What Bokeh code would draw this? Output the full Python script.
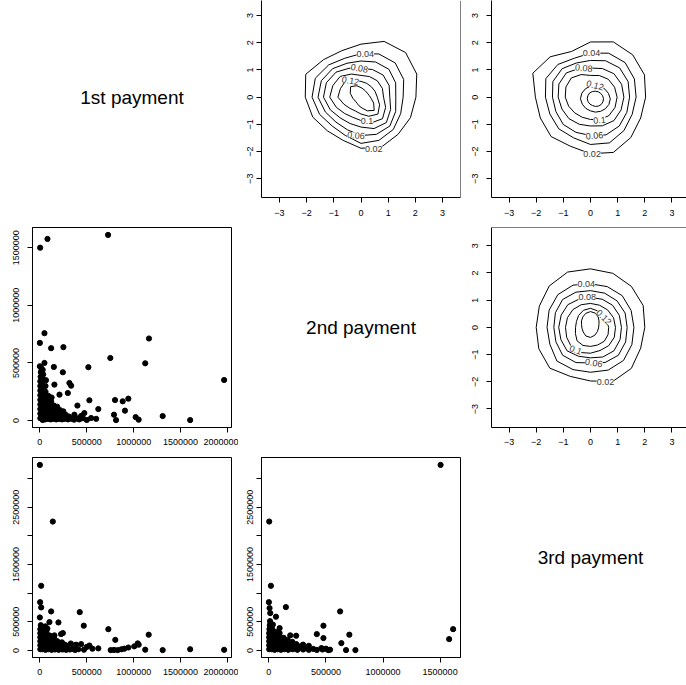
import numpy as np
from bokeh.plotting import figure
from bokeh.layouts import column, row
from bokeh.models import FixedTicker, Range1d, Span, LinearAxis
from bokeh.embed import file_html
from bokeh.resources import INLINE
from bokeh.core.properties import value

FONT = "Liberation Sans"

# ---------------- data ----------------
diag_labels = ["1st payment", "2nd payment", "3rd payment"]

# scatter panels, values in thousands
s21_p1_k = [3, 81, 727, 0, 49, 120, 251, 751, 1163, 1123, 517, 149, 245, 1964, 0, 49, 801, 883, 943, 907,
            623, 528, 400, 790, 812, 1021, 1053, 1309, 1602, 315, 333, 298, 209, 474, 546, 368, 155, 420,
            460, 500, 440, 600,
            5, 5, 5, 5, 5, 5, 5, 5, 5, 8, 10, 15, 30, 35, 30, 25, 30, 25, 30, 30, 30, 30, 30, 30,
            55, 55, 55, 55, 55, 55, 60, 60, 65, 85, 85, 85, 85, 85, 90, 115, 115, 115, 115, 120, 125,
            145, 145, 145, 150, 175, 175, 180, 185, 205, 210, 215, 235, 240, 250, 265, 275, 300, 310,
            340, 365, 395]
s21_p2_k = [1500, 1576, 1611, 674, 758, 628, 637, 543, 712, 497, 463, 465, 419, 352, 471, 500, 178, 167, 190, 86,
            100, 176, 130, 51, 4, 30, 8, 39, 4, 326, 303, 239, 225, 65, 22, 51, 312, 10,
            20, 5, 40, 15,
            20, 60, 100, 140, 180, 220, 260, 300, 340, 380, 420, 455, 440, 400, 360, 320, 280, 240, 200, 160, 120, 80, 40, 5,
            10, 50, 90, 130, 170, 210, 250, 300, 350, 15, 55, 95, 135, 175, 215, 10, 45, 85, 125, 165, 200,
            15, 50, 90, 130, 10, 45, 85, 120, 15, 50, 90, 10, 45, 80, 15, 50, 10, 35,
            15, 8, 20]

s31_p1_k = [0, 138, 14, 3, 14, 0, 120, 425, 468, 198, 102, 155, 226, 245, 730, 804, 1160, 1043, 1006, 1053,
            943, 900, 870, 1123, 1309, 1602, 1964, 623, 755, 790, 830, 528, 440, 386, 60, 20, 560, 500, 330, 290,
            5, 5, 5, 5, 5, 5, 10, 30, 30, 30, 30, 35, 40, 25,
            60, 60, 60, 60, 65, 70, 80, 90, 90, 95, 100, 105, 125, 125, 130, 140, 150,
            160, 165, 175, 185, 200, 205, 215, 235, 240, 250, 265, 280, 295, 320, 350, 375, 410, 470]
s31_p3_k = [3239, 2250, 1128, 842, 750, 575, 680, 668, 431, 488, 494, 262, 284, 302, 370, 184, 274, 122, 70, 99,
            50, 30, 20, 12, 5, 20, 10, 35, 5, 8, 5, 85, 110, 99, 420, 400, 30, 60, 120, 80,
            20, 90, 160, 230, 300, 370, 440, 20, 90, 160, 230, 300, 370, 410,
            10, 70, 130, 190, 250, 320, 380, 20, 80, 140, 200, 260, 10, 65, 120, 180, 230,
            15, 60, 110, 160, 10, 50, 95, 140, 15, 55, 100, 10, 40, 15, 30, 8, 20, 12]

s32_p2_k = [1504, 3, 18, 0, 6, 12, 149, 62, 624, 478, 420, 478, 94, 94, 187, 239, 705, 635, 676, 758,
            1579, 1614, 536, 500, 460, 300, 350,
            3, 3, 3, 3, 3, 5, 8, 10, 25, 25, 25, 25, 25, 30, 35,
            50, 50, 50, 55, 55, 60, 75, 75, 80, 85, 90, 105, 105, 110, 120, 130,
            135, 140, 150, 165, 170, 175, 190, 205, 210, 220, 240, 250, 265, 285,
            300, 330, 350, 390, 420, 470, 520]
s32_p3_k = [3239, 2250, 1128, 842, 738, 651, 756, 588, 680, 431, 284, 215, 389, 302, 262, 256, 274, 127, 5, 5,
            197, 371, 12, 30, 40, 100, 80,
            20, 90, 160, 230, 300, 370, 440, 510, 20, 90, 160, 230, 300, 370, 450,
            10, 70, 130, 190, 250, 320, 20, 80, 140, 200, 250, 10, 60, 120, 175, 220,
            20, 70, 130, 180, 10, 55, 100, 150, 20, 65, 110, 10, 45, 80,
            15, 40, 10, 25, 8, 15, 5]

# tick values and labels
money_ticks_a = [0, 500000, 1000000, 1500000, 2000000]
money_labels_a = ["0", "500000", "1000000", "1500000", "2000000"]
money_ticks_b = [0, 500000, 1000000, 1500000]
money_labels_b = ["0", "500000", "1000000", "1500000"]
money_ticks_c = [0, 500000, 1000000, 1500000, 2000000, 2500000, 3000000]
money_labels_c = ["0", "500000", "", "1500000", "", "2500000", ""]
score_ticks = [-3, -2, -1, 0, 1, 2, 3]
score_labels = ["\u22123", "\u22122", "\u22121", "0", "1", "2", "3"]

# contour panels: levels and traced radii (normal-score units) at fixed angles
contour_levels = [0.02, 0.04, 0.06, 0.08, 0.10, 0.12, 0.14]
contour_angle_deg = [0, 22.5, 45, 67.5, 90, 112.5, 135, 157.5, 180, 202.5, 225, 247.5, 270, 292.5, 315, 337.5]

c12_radii = [
    [2.02, 2.22, 2.32, 2.22, 1.95, 1.85, 1.95, 2.20, 2.05, 1.92, 1.75, 1.72, 1.88, 1.98, 1.93, 1.97],
    [1.55, 1.70, 1.78, 1.72, 1.60, 1.55, 1.68, 1.82, 1.80, 1.65, 1.50, 1.52, 1.70, 1.72, 1.68, 1.58],
    [1.28, 1.38, 1.45, 1.40, 1.33, 1.35, 1.48, 1.58, 1.58, 1.42, 1.30, 1.30, 1.41, 1.48, 1.50, 1.38],
    [1.06, 1.12, 1.15, 1.10, 1.06, 1.15, 1.30, 1.38, 1.38, 1.22, 1.08, 1.05, 1.10, 1.25, 1.32, 1.18],
    [0.83, 0.85, 0.85, 0.82, 0.80, 0.92, 1.08, 1.12, 1.15, 0.98, 0.85, 0.80, 0.86, 1.02, 1.12, 0.98],
    [0.60, 0.56, 0.54, 0.55, 0.58, 0.68, 0.82, 0.82, 0.85, 0.68, 0.58, 0.55, 0.62, 0.76, 0.88, 0.74],
    [0.33, 0.28, 0.27, 0.30, 0.37, 0.50, 0.60, 0.47, 0.34, 0.27, 0.26, 0.30, 0.36, 0.50, 0.63, 0.46],
]
c12_cx = [0, 0, 0, 0, 0, 0, 0.04]
c12_cy = [0, 0, 0, 0, 0, 0, -0.04]

c13_radii = [
    [2.03, 2.15, 2.20, 2.20, 2.03, 1.82, 2.10, 2.30, 2.03, 2.00, 2.05, 1.95, 2.08, 2.20, 2.10, 2.00],
    [1.68, 1.75, 1.80, 1.75, 1.62, 1.55, 1.70, 1.78, 1.66, 1.62, 1.65, 1.62, 1.74, 1.82, 1.74, 1.66],
    [1.44, 1.50, 1.52, 1.45, 1.35, 1.36, 1.48, 1.50, 1.40, 1.38, 1.42, 1.40, 1.41, 1.50, 1.50, 1.45],
    [1.23, 1.24, 1.22, 1.14, 1.07, 1.14, 1.26, 1.26, 1.19, 1.14, 1.12, 1.08, 1.06, 1.14, 1.22, 1.22],
    [0.98, 0.96, 0.93, 0.86, 0.80, 0.90, 1.00, 0.98, 0.93, 0.87, 0.82, 0.80, 0.82, 0.90, 0.96, 0.98],
    [0.55, 0.52, 0.50, 0.50, 0.49, 0.50, 0.52, 0.54, 0.55, 0.52, 0.50, 0.48, 0.49, 0.50, 0.52, 0.54],
    [0.30, 0.29, 0.28, 0.28, 0.28, 0.29, 0.30, 0.30, 0.30, 0.29, 0.28, 0.27, 0.28, 0.29, 0.30, 0.30],
]
c13_cx = [0, 0, 0, 0, 0, 0.18, 0.18]
c13_cy = [0, 0, 0, 0, 0, -0.06, -0.06]

c23_radii = [
    [2.00, 2.10, 2.13, 2.15, 2.15, 2.20, 2.15, 2.04, 2.00, 2.06, 2.12, 1.95, 1.97, 2.15, 2.13, 2.00],
    [1.60, 1.62, 1.65, 1.62, 1.60, 1.68, 1.70, 1.65, 1.60, 1.62, 1.75, 1.68, 1.65, 1.70, 1.72, 1.65],
    [1.35, 1.38, 1.38, 1.36, 1.35, 1.40, 1.45, 1.40, 1.35, 1.38, 1.45, 1.40, 1.31, 1.40, 1.45, 1.40],
    [1.14, 1.15, 1.15, 1.12, 1.10, 1.12, 1.18, 1.17, 1.17, 1.18, 1.22, 1.15, 1.12, 1.18, 1.22, 1.18],
    [0.92, 0.92, 0.90, 0.88, 0.88, 0.90, 0.92, 0.92, 0.92, 0.95, 1.00, 1.00, 0.95, 0.92, 0.95, 0.95],
    [0.67, 0.64, 0.61, 0.66, 0.70, 0.68, 0.62, 0.56, 0.55, 0.60, 0.70, 0.72, 0.70, 0.70, 0.72, 0.70],
    [0.31, 0.34, 0.40, 0.46, 0.48, 0.45, 0.40, 0.36, 0.33, 0.34, 0.38, 0.45, 0.47, 0.42, 0.36, 0.32],
]
c23_cx = [0, 0, 0, 0, 0, 0, 0]
c23_cy = [0, 0, 0, 0, 0, 0, 0.10]

contour_label_text = ["0.02", "0.04", "0.06", "0.08", "0.1", "0.12"]
c12_lab_x = [0.47, 0.16, -0.18, -0.06, 0.22, -0.39]
c12_lab_y = [-1.92, 1.60, -1.41, 1.06, -0.88, 0.60]
c12_lab_ang = [0, 0, -5, -10, 0, -10]
c13_lab_x = [0.06, 0.04, 0.15, -0.25, 0.33, 0.17]
c13_lab_y = [-2.10, 1.62, -1.42, 1.07, -0.85, 0.43]
c13_lab_ang = [0, 0, 5, -5, 5, -15]
c23_lab_x = [0.55, -0.16, 0.12, -0.12, -0.55, 0.49]
c23_lab_y = [-2.00, 1.60, -1.31, 1.10, -0.83, 0.37]
c23_lab_ang = [0, 0, -10, 0, -20, -45]

# axis limits of the score panels (per column / per row, as seen in the picture)
score_x_lim = [(-3.67, 3.67), (-3.66, 3.66), (-3.646, 3.536)]
score_y_lim = [(-3.69, 3.555), (-3.68, 3.67), (-3.68, 3.67)]

# ---------------- layout ----------------
COL_W = [238, 229, 219]
COL_BL = [32, 23, 24]
COL_BR = [7, 7, 0]
ROW_H = [227, 230, 228]
ROW_BB = [30, 30, 28]
Y_STANDOFF = [8, 3, 8]
X_STANDOFF = [7, 6, 6]


def padded(vals, frac=0.04):
    lo, hi = min(vals), max(vals)
    d = (hi - lo) * frac
    return (lo - d, hi + d)


def make_fig(r, c, xr, yr):
    p = figure(width=COL_W[c], height=ROW_H[r], x_range=Range1d(*xr), y_range=Range1d(*yr),
               output_backend="svg", toolbar_location=None, tools="",
               x_axis_type=None, y_axis_type=None,
               min_border_left=COL_BL[c], min_border_right=COL_BR[c],
               min_border_top=0, min_border_bottom=ROW_BB[r])
    p.outline_line_color = None
    p.background_fill_color = "white"
    p.border_fill_color = "white"
    return p


def add_axis(p, side, ticks, labels, standoff):
    ax = LinearAxis(ticker=FixedTicker(ticks=ticks),
                    major_label_overrides={t: l for t, l in zip(ticks, labels)},
                    major_tick_out=5, major_tick_in=0,
                    minor_tick_line_color=None,
                    axis_line_color="black", axis_line_width=1,
                    major_tick_line_color="black",
                    major_label_text_font=FONT, major_label_text_font_size="9px",
                    major_label_text_color="black", major_label_standoff=standoff)
    if side == "left":
        ax.major_label_orientation = "vertical"
    p.add_layout(ax, side)


ANG = np.deg2rad(np.array(contour_angle_deg))


def draw_contours(p, radii, cx, cy, lx, ly, lang):
    xs, ys = [], []
    aa = np.append(ANG, ANG[0])
    for rad, x0, y0 in zip(radii, cx, cy):
        rr = np.array(rad + rad[:1])
        xs.append(list(x0 + rr * np.cos(aa)))
        ys.append(list(y0 + rr * np.sin(aa)))
    p.multi_line(xs, ys, line_color="black", line_width=1, line_join="round")
    p.text(x=lx, y=ly, text=contour_label_text, angle=list(np.deg2rad(lang)),
           text_font=value(FONT), text_font_size="9px", text_color="#333333",
           text_align="center", text_baseline="middle",
           background_fill_color="white", padding=0)


def diag_panel(r, c):
    p = make_fig(r, c, score_x_lim[c], score_y_lim[r])
    p.text(x=[0], y=[0], text=[diag_labels[r]], text_font=value(FONT), text_font_size="19px",
           text_color="black", text_align="center", text_baseline="middle")
    return p


def contour_panel(r, c, radii, cx, cy, lx, ly, lang, right_line, top_line):
    p = make_fig(r, c, score_x_lim[c], score_y_lim[r])
    draw_contours(p, radii, cx, cy, lx, ly, lang)
    add_axis(p, "left", score_ticks, score_labels, Y_STANDOFF[c])
    add_axis(p, "below", score_ticks, score_labels, X_STANDOFF[r])
    if right_line:
        p.add_layout(Span(location=score_x_lim[c][1], dimension="height", line_color="black", line_width=1))
    if top_line:
        p.add_layout(Span(location=score_y_lim[r][1], dimension="width", line_color="black", line_width=1))
    return p


def scatter_panel(r, c, xk, yk, xt, xl, yt, yl):
    x = [v * 1000 for v in xk]
    y = [v * 1000 for v in yk]
    p = make_fig(r, c, padded(x), padded(y))
    p.outline_line_color = "black"
    p.outline_line_width = 1
    p.scatter(x, y, size=5.2, color="black")
    add_axis(p, "left", yt, yl, Y_STANDOFF[c])
    add_axis(p, "below", xt, xl, X_STANDOFF[r])
    return p


f11 = diag_panel(0, 0)
f12 = contour_panel(0, 1, c12_radii, c12_cx, c12_cy, c12_lab_x, c12_lab_y, c12_lab_ang, True, False)
f13 = contour_panel(0, 2, c13_radii, c13_cx, c13_cy, c13_lab_x, c13_lab_y, c13_lab_ang, False, False)

f21 = scatter_panel(1, 0, s21_p1_k, s21_p2_k, money_ticks_a, money_labels_a, money_ticks_b, money_labels_b)
f22 = diag_panel(1, 1)
f23 = contour_panel(1, 2, c23_radii, c23_cx, c23_cy, c23_lab_x, c23_lab_y, c23_lab_ang, False, True)

f31 = scatter_panel(2, 0, s31_p1_k, s31_p3_k, money_ticks_a, money_labels_a, money_ticks_c, money_labels_c)
f32 = scatter_panel(2, 1, s32_p2_k, s32_p3_k, money_ticks_b, money_labels_b, money_ticks_c, money_labels_c)
f33 = diag_panel(2, 2)

layout = column(row(f11, f12, f13, spacing=0),
                row(f21, f22, f23, spacing=0),
                row(f31, f32, f33, spacing=0), spacing=0)

open("out.html", "w").write(file_html(layout, INLINE))
